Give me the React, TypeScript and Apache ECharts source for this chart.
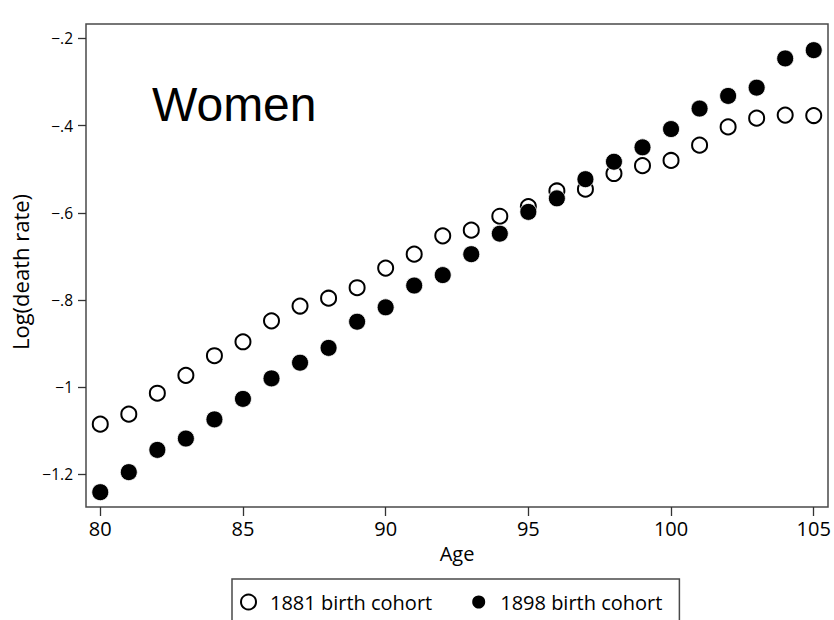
import React, { useEffect, useRef } from "react";
import * as echarts from "echarts";

// Age at death, 80 through 105
const ages = [80, 81, 82, 83, 84, 85, 86, 87, 88, 89, 90, 91, 92, 93, 94, 95, 96, 97, 98, 99, 100, 101, 102, 103, 104, 105];

// Log death rates for women, by birth cohort
const cohort1881 = [
  -1.085, -1.062, -1.014, -0.973, -0.928, -0.896, -0.848, -0.814, -0.796, -0.772,
  -0.727, -0.695, -0.653, -0.64, -0.608, -0.586, -0.55, -0.546, -0.51, -0.492,
  -0.48, -0.445, -0.403, -0.383, -0.376, -0.377,
];
const cohort1898 = [
  -1.241, -1.195, -1.144, -1.118, -1.074, -1.027, -0.98, -0.944, -0.91, -0.85,
  -0.817, -0.767, -0.743, -0.695, -0.648, -0.598, -0.567, -0.523, -0.483, -0.45,
  -0.408, -0.361, -0.332, -0.313, -0.246, -0.227,
];

const xTicks = [80, 85, 90, 95, 100, 105];
const yTicks = [-1.2, -1, -0.8, -0.6, -0.4, -0.2];

const seriesNames = ["1881 birth cohort", "1898 birth cohort"];
const panelTitle = "Women";

const FONT = "'Open Sans', sans-serif";

// Stata-style tick labels: "−.2", "−1", "−1.2"
function fmtY(v: number): string {
  const abs = Math.abs(Number(v.toFixed(2)));
  const body = String(abs).replace(/^0\./, ".");
  return (v < 0 ? "\u2212" : "") + body;
}

export default function App() {
  const ref = useRef<HTMLDivElement>(null);

  useEffect(() => {
    if (!ref.current) return;
    const chart = echarts.init(ref.current, undefined, { renderer: "svg" });

    const pairs = (ys: number[]) => ages.map((a, i) => [a, ys[i]]);

    chart.setOption({
      animation: false,
      backgroundColor: "#ffffff",
      title: {
        text: panelTitle,
        left: 152,
        top: 80,
        padding: 0,
        textStyle: {
          fontFamily: "'Liberation Sans', Arial, sans-serif",
          fontSize: 48,
          fontWeight: "normal",
          color: "#000",
        },
      },
      grid: {
        left: 86,
        right: 6,
        top: 24,
        bottom: 113,
        show: true,
        borderColor: "#4a4a4a",
        borderWidth: 1.5,
        backgroundColor: "transparent",
      },
      xAxis: {
        type: "value",
        min: 79.5,
        max: 105.5,
        name: "Age",
        nameLocation: "middle",
        nameGap: 36,
        nameTextStyle: { fontFamily: FONT, fontSize: 20, color: "#000" },
        axisLine: { show: false },
        splitLine: { show: false },
        axisTick: {
          show: true,
          length: 9,
          customValues: xTicks,
          lineStyle: { color: "#333", width: 1.3 },
        },
        axisLabel: {
          customValues: xTicks,
          margin: 11,
          fontFamily: FONT,
          fontSize: 20,
          color: "#000",
        },
      },
      yAxis: {
        type: "value",
        min: -1.275,
        max: -0.167,
        name: "Log(death rate)",
        nameLocation: "middle",
        nameGap: 52,
        nameTextStyle: { fontFamily: FONT, fontSize: 22, color: "#000", padding: [0, 13, 0, 0] },
        axisLine: { show: false },
        splitLine: { show: false },
        axisTick: {
          show: true,
          length: 8,
          customValues: yTicks,
          lineStyle: { color: "#333", width: 1.3 },
        },
        axisLabel: {
          customValues: yTicks,
          margin: 13,
          fontFamily: FONT,
          fontSize: 15.5,
          color: "#000",
          formatter: (v: number) => fmtY(v),
        },
      },
      legend: {
        data: seriesNames,
        left: 232,
        top: 579,
        orient: "horizontal",
        icon: "circle",
        itemWidth: 33,
        itemHeight: 15,
        itemGap: 38,
        padding: [13, 17, 24, 8],
        borderColor: "#4a4a4a",
        borderWidth: 1.5,
        backgroundColor: "#fff",
        textStyle: { fontFamily: FONT, fontSize: 20, color: "#000" },
      },
      series: [
        {
          name: seriesNames[0],
          type: "scatter",
          data: pairs(cohort1881),
          symbol: "circle",
          symbolSize: 15,
          itemStyle: { color: "#ffffff", borderColor: "#000", borderWidth: 2, opacity: 1 },
          z: 2,
        },
        {
          name: seriesNames[1],
          type: "scatter",
          data: pairs(cohort1898),
          symbol: "circle",
          symbolSize: 17,
          itemStyle: { color: "#000", borderColor: "#fff", borderWidth: 0.8, opacity: 1 },
          z: 3,
        },
      ],
    });

    return () => chart.dispose();
  }, []);

  return (
    <div style={{ position: "fixed", left: 0, top: 0, width: 834, height: 620, background: "#fff" }}>
      <div ref={ref} style={{ width: 834, height: 620 }} />
    </div>
  );
}
